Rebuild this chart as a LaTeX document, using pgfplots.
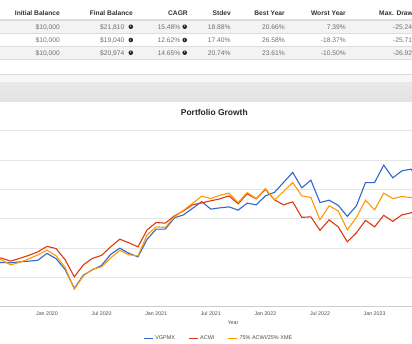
\documentclass[border=0pt]{standalone}
\usepackage{fontspec}
\setmainfont{Liberation Sans}
\usepackage{pgfplots}
\usepackage{pgfplotstable}
\pgfplotsset{compat=1.18}
\definecolor{cblue}{HTML}{3366CC}
\definecolor{cred}{HTML}{DC3912}
\definecolor{corange}{HTML}{FF9900}
\definecolor{hdr}{HTML}{333333}
\definecolor{cell}{HTML}{6E6E6E}
\definecolor{rowbg}{HTML}{F3F3F3}
\definecolor{rulec}{HTML}{DDDDDD}
\definecolor{gridc}{HTML}{E6E6E6}
\definecolor{basec}{HTML}{CCCCCC}
\newcommand\fs[1]{\fontsize{#1}{#1}\selectfont}

\pgfplotstableread{
m v
-6 10600
-5 10531
-4 10500
-3 10602
-2 10674
-1 10766
0 11471
1 10929
2 9804
3 7892
4 9252
5 9784
6 10244
7 11369
8 12003
9 11471
10 11114
11 12903
12 13946
13 13946
14 15102
15 15409
16 16073
17 16759
18 15992
19 16125
20 16227
21 15890
22 16605
23 16431
24 17352
25 17710
26 18733
27 19745
28 18170
29 18958
30 16667
31 16912
32 16380
33 15255
34 16329
35 18712
36 18712
37 20492
38 19193
39 19909
40 20083
41 18886
}\vgpmx

\pgfplotstableread{
m v
-6 11090
-5 10981
-4 10674
-3 10960
-2 11267
-1 11625
0 12187
1 11962
2 10807
3 9068
4 10295
5 10960
6 11267
7 12136
8 12924
9 12545
10 12136
11 13875
12 14621
13 14560
14 15307
15 15818
16 16431
17 16636
18 16841
19 17045
20 17352
21 16534
22 17557
23 17045
24 18017
25 16943
26 16431
27 16738
28 15153
29 15204
30 13824
31 14897
32 14182
33 12648
34 13568
35 14846
36 14182
37 15358
38 14744
39 15409
40 15613
41 15818
}\acwi

\pgfplotstableread{
m v
-6 10909
-5 10807
-4 10295
-3 10551
-2 10909
-1 11318
0 11799
1 11216
2 10019
3 7810
4 9170
5 9835
6 10091
7 11011
8 11778
9 11318
10 11216
11 13363
12 14182
13 14130
14 15204
15 15869
16 16585
17 17321
18 17076
19 17403
20 17628
21 16667
22 17689
23 17076
24 18099
25 16943
26 17792
27 18712
28 17352
29 17178
30 14897
31 16329
32 15818
33 13875
34 15133
35 16912
36 15920
37 17628
38 17076
39 17280
40 17178
41 16841
}\mix

\newcommand\row[7]{%
  \node[cl] at (60,#1) {\$10,000};
  \node[cl] at (124.5,#1) {\$#2};
  \node[info] at (130.8,#1+2.4) {i};
  \node[cl] at (180.5,#1) {#3};
  \node[info] at (184.7,#1+2.4) {i};
  \node[cl] at (230.7,#1) {#4};
  \node[cl] at (285,#1) {#5};
  \node[cl] at (346,#1) {#6};
  \node[cl, anchor=base west] at (393,#1) {#7};
}

\begin{document}
\begin{tikzpicture}[x=1bp,y=1bp,
  hd/.style={anchor=base east, inner sep=0, font=\bfseries\fs{6.7}, text=hdr},
  cl/.style={anchor=base east, inner sep=0, font=\fs{6.7}, text=cell},
  info/.style={circle, fill=black!85, inner sep=0, minimum size=4.6bp, text=white, font=\bfseries\fs{3.6}}]
\useasboundingbox (0,0) rectangle (412,344);
% ---- table ----
\fill[rowbg] (0,310.7) rectangle (412,323.3);
\fill[rowbg] (0,284.5) rectangle (412,297.5);
\draw[rulec, line width=1.6bp] (0,324) -- (412,324);
\draw[rulec, line width=0.5bp] (0,310.7)--(412,310.7) (0,297.5)--(412,297.5) (0,284.4)--(412,284.4);
\node[hd] at (60,328.9) {Initial Balance};
\node[hd] at (133,328.9) {Final Balance};
\node[hd] at (188,328.9) {CAGR};
\node[hd] at (231,328.9) {Stdev};
\node[hd] at (285,328.9) {Best Year};
\node[hd] at (346,328.9) {Worst Year};
\node[hd, anchor=base west] at (379,328.9) {Max. Drawdown};
\row{314.9}{21,810}{15.48\%}{18.88\%}{20.66\%}{7.39\%}{-25.24\%}
\row{301.6}{19,040}{12.62\%}{17.40\%}{26.58\%}{-18.37\%}{-25.71\%}
\row{288.9}{20,974}{14.65\%}{20.74\%}{23.61\%}{-10.50\%}{-26.92\%}
% ---- panel header ----
\draw[rulec, line width=0.6bp] (0,269.3) -- (412,269.3);
\fill[black!3] (0,261) rectangle (412,269);
\shade[top color=black!9, bottom color=black!11] (0,242) rectangle (412,261);
% ---- chart ----
\begin{axis}[at={(0,38)}, anchor=south west, scale only axis,
  width=412bp, height=176bp,
  xmin=-5.165, xmax=40.11, ymin=6000, ymax=24000,
  axis line style={draw=none},
  scaled y ticks=false,
  ytick={6000,9000,...,24000}, yticklabels={},
  ymajorgrids, grid style={gridc, line width=0.7bp},
  extra y ticks={6000}, extra y tick labels={}, extra y tick style={grid style={basec, line width=0.8bp}},
  xtick={-6,0,6,12,18,24,30,36},
  xticklabels={Jul 2019,Jan 2020,Jul 2020,Jan 2021,Jul 2021,Jan 2022,Jul 2022,Jan 2023},
  major tick length=0,
  xticklabel style={anchor=center, yshift=-6.7bp, font=\fs{5.3}, text=black!70},
  xlabel={Year}, xlabel style={at={(axis description cs:0.5655,0)}, anchor=center, yshift=-15.7bp, font=\fs{5.3}, text=black!70},
  title={Portfolio Growth}, title style={at={(axis description cs:0.5201,1)}, anchor=center, yshift=12bp, font=\bfseries\fs{8.5}, text=black!85},
  legend columns=3,
  legend style={at={(axis description cs:0.3471,-0.1778)}, anchor=west, draw=none, fill=none, inner sep=0pt,
    font=\fs{5.5}, text=black!70, /tikz/every even column/.append style={column sep=11bp}},
  legend image code/.code={\draw[#1] (0bp,0bp) -- (9bp,0bp);},
  every axis plot/.append style={line width=1.1bp},
]
\addplot[cblue] table[x=m,y=v] {\vgpmx};
\addlegendentry{VGPMX}
\addplot[cred] table[x=m,y=v] {\acwi};
\addlegendentry{ACWI}
\addplot[corange] table[x=m,y=v] {\mix};
\addlegendentry{75\% ACWI/25\% XME}
\end{axis}
\end{tikzpicture}
\end{document}
